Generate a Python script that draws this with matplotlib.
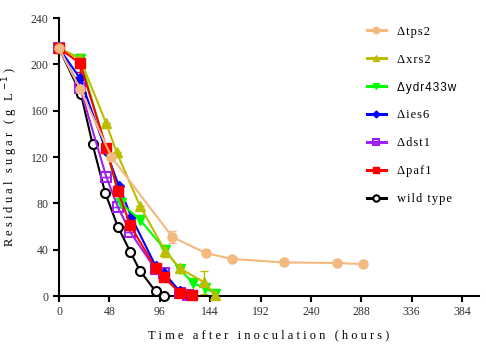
import matplotlib
matplotlib.use("Agg")
import matplotlib.pyplot as plt

# hours after inoculation and residual sugar (g/L) per strain
t_wt = [0, 21, 32, 44, 56, 68, 77, 92, 100]
s_wt = [214, 174, 131, 89, 60, 38, 22, 4, 0]

t_paf1 = [0, 20, 45, 56, 68, 92, 100, 115, 127]
s_paf1 = [214, 201, 128, 91, 61, 24, 16, 3, 1]
e_paf1 = [0, 8, 0, 0, 0, 0, 0, 0, 0]

t_dst1 = [0, 20, 45, 56, 68, 92, 100, 115, 123]
s_dst1 = [214, 180, 103, 77, 55, 23, 20, 3, 1]
e_dst1 = [0, 0, 0, 0, 0, 0, 4, 0, 0]

t_ies6 = [0, 20, 45, 57, 69, 92, 100, 115, 123]
s_ies6 = [214, 188, 125, 95, 68, 26, 20, 4, 1]

t_ydr = [0, 20, 45, 59, 77, 101, 115, 128, 139, 149]
s_ydr = [214, 205, 127, 80, 66, 40, 23, 11, 7, 2]

t_xrs2 = [0, 20, 45, 55, 77, 101, 115, 138, 149]
s_xrs2 = [214, 205, 149, 124, 78, 39, 24, 12, 1]
e_xrs2 = [0, 0, 0, 0, 0, 5, 0, 10, 0]

t_tps2 = [0, 20, 50, 108, 140, 165, 214, 265, 290]
s_tps2 = [214, 179, 120, 51, 37, 32, 29, 28.5, 27.5]
e_tps2 = [0, 0, 0, 5, 0, 0, 0, 0, 0]

labels = ["\u0394tps2", "\u0394xrs2", "\u0394ydr433w", "\u0394ies6",
          "\u0394dst1", "\u0394paf1", "wild type"]


def spaced(s):
    # loose letter spacing like the original figure
    return "\u200a".join(s)


fig = plt.figure(figsize=(4.86, 3.44), dpi=100)
ax = fig.add_axes([0.1214, 0.1395, 0.864, 0.808])

serif = "Liberation Serif"
lw = 1.5
ms = 6.5

h = {}
h["wt"] = ax.plot(t_wt, s_wt, "-o", color="black", mfc="white", mew=1.5,
                  ms=ms, lw=lw, clip_on=False, zorder=3)[0]
ax.errorbar(t_paf1, s_paf1, yerr=e_paf1, color="red", lw=0, elinewidth=1,
            capsize=3, zorder=2)
h["paf1"] = ax.plot(t_paf1, s_paf1, "-s", color="red", ms=ms, lw=lw,
                    clip_on=False, zorder=4)[0]
ax.errorbar(t_dst1, s_dst1, yerr=e_dst1, color="#a020f0", lw=0, elinewidth=1,
            capsize=3, zorder=2)
h["dst1"] = ax.plot(t_dst1, s_dst1, "-s", color="#a020f0", mfc="none",
                    mew=1.5, ms=ms, lw=lw, clip_on=False, zorder=3)[0]
h["ies6"] = ax.plot(t_ies6, s_ies6, "-D", color="blue", ms=5, lw=lw,
                    clip_on=False, zorder=3)[0]
h["ydr"] = ax.plot(t_ydr, s_ydr, "-v", color="#00ff00", ms=ms, lw=lw,
                   clip_on=False, zorder=3)[0]
ax.errorbar(t_xrs2, s_xrs2, yerr=e_xrs2, color="#bdbd00", lw=0, elinewidth=1,
            capsize=3, zorder=2)
h["xrs2"] = ax.plot(t_xrs2, s_xrs2, "-^", color="#bdbd00", ms=ms, lw=lw,
                    clip_on=False, zorder=3)[0]
ax.errorbar(t_tps2, s_tps2, yerr=e_tps2, color="#f4b97f", lw=0, elinewidth=1,
            capsize=3, zorder=2)
h["tps2"] = ax.plot(t_tps2, s_tps2, "-o", color="#f4b97f", ms=ms, lw=lw,
                    clip_on=False, zorder=5)[0]

ax.set_xlim(0, 400)
ax.set_ylim(0, 240)
ax.set_xticks(range(0, 385, 48))
ax.set_yticks(range(0, 241, 40))
for side in ["top", "right"]:
    ax.spines[side].set_visible(False)
for side in ["left", "bottom"]:
    ax.spines[side].set_linewidth(1.5)
ax.tick_params(direction="out", length=4, width=1.5, labelsize=8.5,
               colors="black", labelcolor="#333333")
for lab in ax.get_xticklabels() + ax.get_yticklabels():
    lab.set_family(serif)

ax.set_xlabel("T i m e   a f t e r   i n o c u l a t i o n   ( h o u r s )",
              family=serif, fontsize=9, labelpad=8)
ax.set_ylabel("R e s i d u a l   s u g a r   ( g   L $^{-1}$ )",
              family=serif, fontsize=9, labelpad=8)

order = ["tps2", "xrs2", "ydr", "ies6", "dst1", "paf1", "wt"]
leg = ax.legend([h[k] for k in order], [spaced(l) for l in labels],
                loc="upper left", bbox_to_anchor=(0.733, 0.972),
                frameon=False, borderpad=0, borderaxespad=0,
                prop={"family": serif, "size": 9}, labelspacing=1.27,
                handlelength=1.55, handletextpad=0.85, markerscale=0.7)
for line in leg.get_lines():
    line.set_linewidth(2.2)
# the ydr433w label is set in a sans face in the original
leg.get_texts()[2].set_family("Liberation Sans")
leg.get_texts()[2].set_fontsize(8.5)

fig.savefig("out.png", dpi=100)
